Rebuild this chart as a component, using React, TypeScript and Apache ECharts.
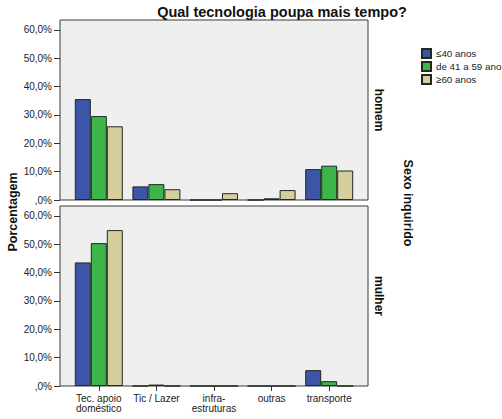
import React, { useEffect, useRef } from "react";
import * as echarts from "echarts";

const categories = ["Tec. apoio\ndoméstico", "Tic / Lazer", "infra-\nestruturas", "outras", "transporte"];
const seriesNames = ["≤40 anos", "de 41 a 59 ano", "≥60 anos"];
const homem40 = [35.6, 4.8, 0, 0, 10.9];
const homem4159 = [29.6, 5.6, 0, 0.6, 12.1];
const homem60 = [26.0, 3.8, 2.4, 3.5, 10.4];
const mulher40 = [43.6, 0, 0, 0, 5.6];
const mulher4159 = [50.4, 0.5, 0, 0, 1.7];
const mulher60 = [55.0, 0, 0, 0, 0];
const yTicks = [0, 10, 20, 30, 40, 50, 60];
const panelLabels = ["homem", "mulher"];

const colors = ["#3d55a8", "#3cb54a", "#d5cf9d"];
const FONT = "Liberation Sans, Arial, sans-serif";

export default function App() {
  const ref = useRef<HTMLDivElement>(null);
  useEffect(() => {
    if (!ref.current) return;
    const chart = echarts.init(ref.current, null, { renderer: "svg" });
    const panels = [
      { top: 20, height: 180 },
      { top: 206, height: 180 },
    ];
    const data = [
      [homem40, homem4159, homem60],
      [mulher40, mulher4159, mulher60],
    ];
    const fmt = (v: number) => (v === 0 ? ",0%" : `${v},0%`);
    const series: any[] = [];
    data.forEach((grp, gi) => {
      grp.forEach((vals, si) => {
        series.push({
          type: "bar",
          name: seriesNames[si],
          xAxisIndex: gi,
          yAxisIndex: gi,
          data: vals,
          barWidth: 16,
          barGap: "0%",
          itemStyle: { color: colors[si], borderColor: "#1e2a1e", borderWidth: 1 },
          z: 3,
        });
      });
    });
    chart.setOption({
      animation: false,
      textStyle: { fontFamily: FONT },
      title: {
        text: "Qual tecnologia poupa mais tempo?",
        left: 277,
        textAlign: "center",
        top: -1,
        textStyle: { fontSize: 14.5, fontWeight: "bold", color: "#111", fontFamily: FONT },
      },
      legend: {
        data: seriesNames,
        orient: "vertical",
        left: 421,
        top: 48,
        itemWidth: 9,
        itemHeight: 9,
        itemGap: 2,
        padding: 0,
        icon: "rect",
        textStyle: { fontSize: 9.8, lineHeight: 10, color: "#222", fontFamily: FONT },
      },
      grid: panels.map((p) => ({ left: 70, top: p.top, width: 288, height: p.height })),
      xAxis: panels.map((p, i) => ({
        type: "category",
        gridIndex: i,
        data: categories,
        axisLine: { show: false },
        axisTick: { show: i === 1, alignWithLabel: true, length: 5, lineStyle: { color: "#333" } },
        axisLabel: {
          show: i === 1,
          fontSize: 10,
          color: "#222",
          lineHeight: 10,
          margin: 7,
          interval: 0,
          fontFamily: FONT,
        },
      })),
      yAxis: panels.map((p, i) => ({
        type: "value",
        gridIndex: i,
        min: 0,
        max: 63.5,
        offset: 10,
        axisLine: { show: false },
        splitLine: { show: false },
        axisTick: { show: true, length: 6, customValues: yTicks, lineStyle: { color: "#333" } },
        axisLabel: {
          customValues: yTicks,
          formatter: fmt,
          fontSize: 10,
          color: "#222",
          margin: 8,
          fontFamily: FONT,
        },
      })),
      graphic: [
        ...panels.map((p) => ({
          type: "rect",
          z: 0,
          silent: true,
          shape: { x: 60, y: p.top, width: 308, height: p.height },
          style: { fill: "#efefef", stroke: "#3a3a3a", lineWidth: 1 },
        })),
        ...panels.map((p, i) => ({
          type: "text",
          x: 379,
          y: p.top + p.height / 2,
          rotation: -Math.PI / 2,
          style: {
            text: panelLabels[i],
            font: `bold 12px ${FONT}`,
            fill: "#111",
            textAlign: "center",
            textVerticalAlign: "middle",
          },
        })),
        {
          type: "text",
          x: 408,
          y: 203,
          rotation: -Math.PI / 2,
          style: {
            text: "Sexo inquirido",
            font: `bold 12.5px ${FONT}`,
            fill: "#111",
            textAlign: "center",
            textVerticalAlign: "middle",
          },
        },
        {
          type: "text",
          x: 13,
          y: 212,
          rotation: Math.PI / 2,
          style: {
            text: "Porcentagem",
            font: `bold 12.5px ${FONT}`,
            fill: "#111",
            textAlign: "center",
            textVerticalAlign: "middle",
          },
        },
      ],
      series,
    });
    return () => chart.dispose();
  }, []);
  return (
    <div
      ref={ref}
      style={{ position: "fixed", left: 0, top: 0, width: 502, height: 419, background: "#fff" }}
    />
  );
}
